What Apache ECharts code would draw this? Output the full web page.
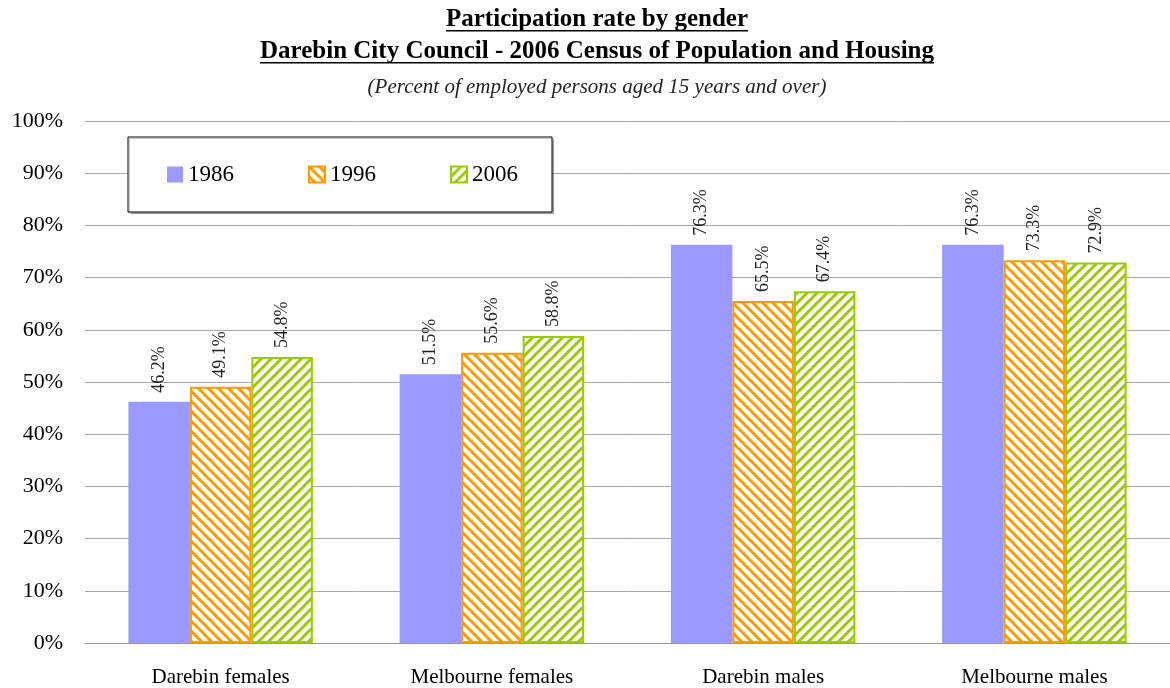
<html>
<head>
    <meta charset="utf-8">
    <title>Participation rate by gender</title>
    <style type="text/css">
        body { margin: 0; background: #fff; }
        #chart { width: 1170px; height: 688px; }
    </style>
</head>
<body>
    <div id="chart"></div>
</body>
</html>

<script src="https://cdn.jsdelivr.net/npm/echarts@6/dist/echarts.min.js"></script>
<script>

    var categories = ['Darebin females', 'Melbourne females', 'Darebin males', 'Melbourne males'];
    var years = ['1986', '1996', '2006'];
    var values1986 = [46.2, 51.5, 76.3, 76.3];
    var values1996 = [49.1, 55.6, 65.5, 73.3];
    var values2006 = [54.8, 58.8, 67.4, 72.9];
    var yTicks = [0, 10, 20, 30, 40, 50, 60, 70, 80, 90, 100];

    var font = "'Liberation Serif', 'DejaVu Serif', serif";

    // diagonal stripe fill, dir 1 = "\" , dir -1 = "/"
    function stripes(color, dir) {
        var c = document.createElement('canvas');
        c.width = 10;
        c.height = 10;
        var ctx = c.getContext('2d');
        ctx.fillStyle = '#fff';
        ctx.fillRect(0, 0, 10, 10);
        ctx.strokeStyle = color;
        ctx.lineWidth = 3;
        ctx.beginPath();
        for (var k = -10; k <= 10; k += 10) {
            if (dir > 0) {
                ctx.moveTo(k - 5, -5);
                ctx.lineTo(k + 15, 15);
            } else {
                ctx.moveTo(k - 5, 15);
                ctx.lineTo(k + 15, -5);
            }
        }
        ctx.stroke();
        return { image: c, repeat: 'repeat' };
    }

    function barSeries(name, data, fill, border) {
        return {
            name: name,
            type: 'bar',
            data: data,
            barGap: 0,
            barCategoryGap: '32%',
            itemStyle: {
                color: fill,
                borderColor: border,
                borderWidth: border ? 2 : 0
            },
            label: {
                show: true,
                position: 'top',
                rotate: 90,
                align: 'left',
                verticalAlign: 'middle',
                distance: 9,
                color: '#222',
                fontFamily: font,
                fontSize: 18,
                formatter: function (p) { return p.value.toFixed(1) + '%'; }
            }
        };
    }

    var chart = echarts.init(document.getElementById('chart'));

    var titleX = 597;
    var titleFont = "bold 25px " + font;
    var titleLines = [
        { text: 'Participation rate by gender', y: 20 },
        { text: 'Darebin City Council - 2006 Census of Population and Housing', y: 52 }
    ];

    var measure = document.createElement('canvas').getContext('2d');
    measure.font = titleFont;

    var graphics = [];
    titleLines.forEach(function (t) {
        var w = measure.measureText(t.text).width;
        graphics.push({
            type: 'text',
            style: {
                text: t.text,
                x: titleX,
                y: t.y,
                align: 'center',
                verticalAlign: 'middle',
                font: titleFont,
                fill: '#000'
            }
        });
        graphics.push({
            type: 'rect',
            shape: { x: titleX - w / 2, y: t.y + 10, width: w, height: 1.5 },
            style: { fill: '#000' }
        });
    });
    graphics.push({
        type: 'text',
        style: {
            text: '(Percent of employed persons aged 15 years and over)',
            x: titleX,
            y: 87,
            align: 'center',
            verticalAlign: 'middle',
            font: "italic 21px " + font,
            fill: '#222'
        }
    });

    var option = {
        backgroundColor: '#fff',
        animation: false,
        graphic: graphics,
        legend: {
            data: years,
            left: 128,
            top: 137,
            padding: [26, 34, 26, 39],
            itemGap: 74,
            itemWidth: 16,
            itemHeight: 16,
            icon: 'rect',
            backgroundColor: '#fff',
            borderColor: '#000',
            borderWidth: 1,
            shadowColor: 'rgba(0,0,0,0.25)',
            shadowOffsetX: 1.5,
            shadowOffsetY: 1.5,
            shadowBlur: 1,
            textStyle: {
                fontFamily: font,
                fontSize: 23,
                color: '#000'
            }
        },
        grid: {
            left: 85,
            right: 0,
            top: 121,
            bottom: 44
        },
        xAxis: {
            type: 'category',
            data: categories,
            axisTick: { show: false },
            axisLine: { lineStyle: { color: '#999' } },
            axisLabel: {
                margin: 24,
                fontFamily: font,
                fontSize: 21,
                color: '#000'
            }
        },
        yAxis: {
            type: 'value',
            min: yTicks[0],
            max: yTicks[yTicks.length - 1],
            interval: 10,
            axisLine: { show: false },
            axisTick: { show: false },
            splitLine: { lineStyle: { color: '#a6a6a6', width: 1 } },
            axisLabel: {
                margin: 22,
                fontFamily: font,
                fontSize: 22,
                color: '#000',
                formatter: '{value}%'
            }
        },
        series: [
            barSeries(years[0], values1986, '#9999ff', null),
            barSeries(years[1], values1996, stripes('#ff9900', 1), '#ff9900'),
            barSeries(years[2], values2006, stripes('#99cc00', -1), '#99cc00')
        ]
    };

    chart.setOption(option);

</script>
